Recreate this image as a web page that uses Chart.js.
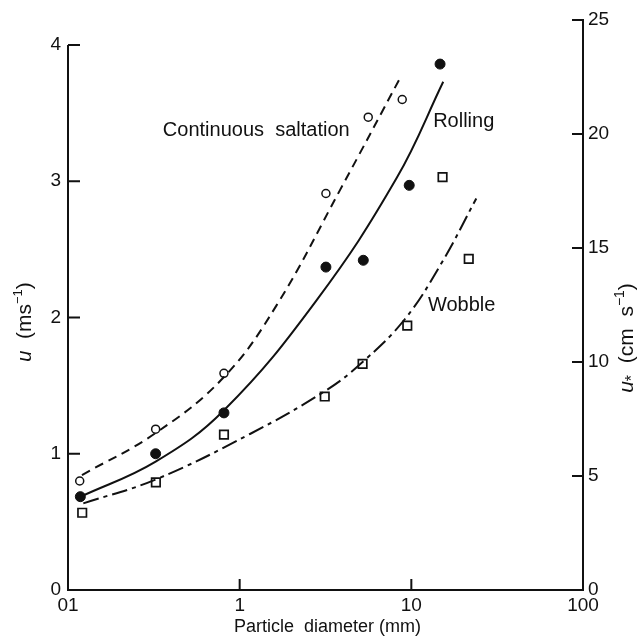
<!DOCTYPE html>
<html>
<head>
<meta charset="utf-8">
<script src="https://cdn.jsdelivr.net/npm/chart.js@4.4.0/dist/chart.umd.min.js"></script>
<style>
  html, body { margin: 0; padding: 0; background: #fff; }
  #wrap { width: 638px; height: 639px; }
</style>
</head>
<body>
<div id="wrap"><canvas id="chart"></canvas></div>
<script>
// particle diameter (mm) and threshold speed u (m/s)
var saltationD = [0.117, 0.324, 0.81, 3.18, 5.61, 8.85];
var saltationU = [0.80, 1.18, 1.59, 2.91, 3.47, 3.60];
var rollingD = [0.118, 0.324, 0.81, 3.18, 5.25, 9.72, 14.7];
var rollingU = [0.685, 1.00, 1.30, 2.37, 2.42, 2.97, 3.86];
var wobbleD = [0.121, 0.325, 0.81, 3.13, 5.2, 9.47, 15.2, 21.6];
var wobbleU = [0.567, 0.79, 1.14, 1.42, 1.66, 1.94, 3.03, 2.43];

// hand-drawn fitted curves
var saltationFitD = [0.1206, 0.324, 0.81, 1.643, 3.84, 8.78];
var saltationFitU = [0.844, 1.152, 1.563, 2.091, 2.935, 3.779];
var rollingFitD = [0.1186, 0.324, 0.813, 2.81, 8.21, 15.34];
var rollingFitU = [0.685, 0.942, 1.321, 2.128, 3.023, 3.730];
var wobbleFitD = [0.1228, 0.324, 1.148, 3.14, 5.20, 9.18, 15.0, 23.9];
var wobbleFitU = [0.636, 0.811, 1.145, 1.460, 1.673, 1.989, 2.400, 2.874];

// axis ticks
var xTickValues = [0.1, 1, 10, 100];
var xTickLabels = ['01', '1', '10', '100'];
var leftTicks = [0, 1, 2, 3, 4];
var rightTicks = [0, 5, 10, 15, 20, 25];

// curve labels, anchored in data units (left edge, vertical middle)
var noteTexts = ['Continuous  saltation', 'Rolling', 'Wobble'];
var noteD = [0.357, 13.4, 12.5];
var noteU = [3.376, 3.435, 2.09];

var INK = '#111';
var FONT = "'Liberation Sans', Arial, Helvetica, sans-serif";
Chart.defaults.font.family = FONT;
Chart.defaults.color = INK;

function pairs(xs, ys) {
  return xs.map(function (x, i) { return { x: x, y: ys[i] }; });
}

function drawRich(ctx, parts, cx, cy, angle) {
  ctx.save();
  ctx.translate(cx, cy);
  ctx.rotate(angle);
  ctx.textBaseline = 'middle';
  ctx.textAlign = 'left';
  var total = 0;
  parts.forEach(function (p) {
    ctx.font = (p.it ? 'italic ' : '') + p.size + 'px ' + FONT;
    p.w = ctx.measureText(p.t).width;
    total += p.w;
  });
  var x = -total / 2;
  parts.forEach(function (p) {
    ctx.font = (p.it ? 'italic ' : '') + p.size + 'px ' + FONT;
    ctx.fillText(p.t, x, p.dy || 0);
    x += p.w;
  });
  ctx.restore();
}

var axisDecor = {
  id: 'axisDecor',
  afterDraw: function (chart) {
    var ctx = chart.ctx;
    var a = chart.chartArea;
    var xs = chart.scales.x, yl = chart.scales.y, yr = chart.scales.y2;
    ctx.save();
    ctx.strokeStyle = INK;
    ctx.lineWidth = 2;
    ctx.lineCap = 'butt';

    // left axis only runs up to 4
    ctx.beginPath();
    ctx.moveTo(a.left, yl.getPixelForValue(0) + 1);
    ctx.lineTo(a.left, yl.getPixelForValue(4));
    ctx.stroke();

    // inward tick marks
    ctx.beginPath();
    leftTicks.forEach(function (v) {
      if (v === 0) return;
      var py = yl.getPixelForValue(v);
      ctx.moveTo(a.left, py);
      ctx.lineTo(a.left + 12, py);
    });
    rightTicks.forEach(function (v) {
      if (v === 0) return;
      var py = yr.getPixelForValue(v);
      ctx.moveTo(a.right, py);
      ctx.lineTo(a.right - 11, py);
    });
    xTickValues.forEach(function (v) {
      if (v === 0.1 || v === 100) return;
      var px = xs.getPixelForValue(v);
      ctx.moveTo(px, a.bottom);
      ctx.lineTo(px, a.bottom - 11);
    });
    ctx.stroke();

    // curve labels
    ctx.fillStyle = INK;
    ctx.font = '20px ' + FONT;
    ctx.textBaseline = 'middle';
    ctx.textAlign = 'left';
    noteTexts.forEach(function (t, i) {
      ctx.fillText(t, xs.getPixelForValue(noteD[i]), yl.getPixelForValue(noteU[i]));
    });

    // axis titles
    ctx.font = '18px ' + FONT;
    ctx.textAlign = 'center';
    ctx.fillText('Particle  diameter (mm)', (a.left + a.right) / 2 + 2, chart.height - 12);

    drawRich(ctx, [
      { t: 'u', it: true, size: 20 },
      { t: '  (ms', size: 21 },
      { t: '\u22121', size: 13, dy: -7 },
      { t: ')', size: 21 }
    ], 25, 322, -Math.PI / 2);

    drawRich(ctx, [
      { t: 'u', it: true, size: 21 },
      { t: '*', size: 16, dy: 6 },
      { t: '  (cm  s', size: 21 },
      { t: '\u22121', size: 14, dy: -7 },
      { t: ')', size: 21 }
    ], 627, 338, -Math.PI / 2);

    ctx.restore();
  }
};

var datasets = [
  {
    label: 'Continuous saltation fit',
    data: pairs(saltationFitD, saltationFitU),
    showLine: true, pointRadius: 0, borderColor: INK, borderWidth: 2,
    borderDash: [9, 6], tension: 0.4, yAxisID: 'y'
  },
  {
    label: 'Rolling fit',
    data: pairs(rollingFitD, rollingFitU),
    showLine: true, pointRadius: 0, borderColor: INK, borderWidth: 2,
    tension: 0.4, yAxisID: 'y'
  },
  {
    label: 'Wobble fit',
    data: pairs(wobbleFitD, wobbleFitU),
    showLine: true, pointRadius: 0, borderColor: INK, borderWidth: 2,
    borderDash: [16, 5, 4, 5], tension: 0.4, yAxisID: 'y'
  },
  {
    label: 'Continuous saltation',
    data: pairs(saltationD, saltationU),
    showLine: false, pointStyle: 'circle', pointRadius: 4,
    pointBackgroundColor: '#fff', pointBorderColor: INK, pointBorderWidth: 1.5, yAxisID: 'y'
  },
  {
    label: 'Rolling',
    data: pairs(rollingD, rollingU),
    showLine: false, pointStyle: 'circle', pointRadius: 5,
    pointBackgroundColor: INK, pointBorderColor: INK, pointBorderWidth: 1, yAxisID: 'y'
  },
  {
    label: 'Wobble',
    data: pairs(wobbleD, wobbleU),
    showLine: false, pointStyle: 'rect', pointRadius: 6,
    pointBackgroundColor: '#fff', pointBorderColor: INK, pointBorderWidth: 1.7, yAxisID: 'y'
  }
];

new Chart(document.getElementById('chart'), {
  type: 'scatter',
  data: { datasets: datasets },
  plugins: [axisDecor],
  options: {
    responsive: true,
    maintainAspectRatio: false,
    animation: false,
    layout: { padding: { top: 20, left: 0, right: 0, bottom: 0 } },
    plugins: {
      legend: { display: false },
      tooltip: { enabled: false }
    },
    scales: {
      x: {
        type: 'logarithmic',
        min: 0.1,
        max: 100,
        afterBuildTicks: function (s) {
          s.ticks = xTickValues.map(function (v) { return { value: v }; });
        },
        afterFit: function (s) { s.height = 49; },
        ticks: {
          autoSkip: false, maxRotation: 0, padding: 4,
          font: { size: 19 }, color: INK,
          callback: function (v) {
            var i = xTickValues.indexOf(v);
            return i >= 0 ? xTickLabels[i] : '';
          }
        },
        grid: { drawOnChartArea: false, drawTicks: false },
        border: { display: true, color: INK, width: 2 }
      },
      y: {
        position: 'left',
        min: 0,
        max: 4 * 570 / 545,
        afterBuildTicks: function (s) {
          s.ticks = leftTicks.map(function (v) { return { value: v }; });
        },
        afterFit: function (s) { s.width = 68; },
        ticks: { padding: 7, font: { size: 19 }, color: INK },
        grid: { drawOnChartArea: false, drawTicks: false },
        border: { display: false }
      },
      y2: {
        position: 'right',
        min: 0,
        max: 25,
        afterBuildTicks: function (s) {
          s.ticks = rightTicks.map(function (v) { return { value: v }; });
        },
        afterFit: function (s) { s.width = 55; },
        ticks: { padding: 5, font: { size: 19 }, color: INK },
        grid: { drawOnChartArea: false, drawTicks: false },
        border: { display: true, color: INK, width: 2 }
      }
    }
  }
});
</script>
</body>
</html>
